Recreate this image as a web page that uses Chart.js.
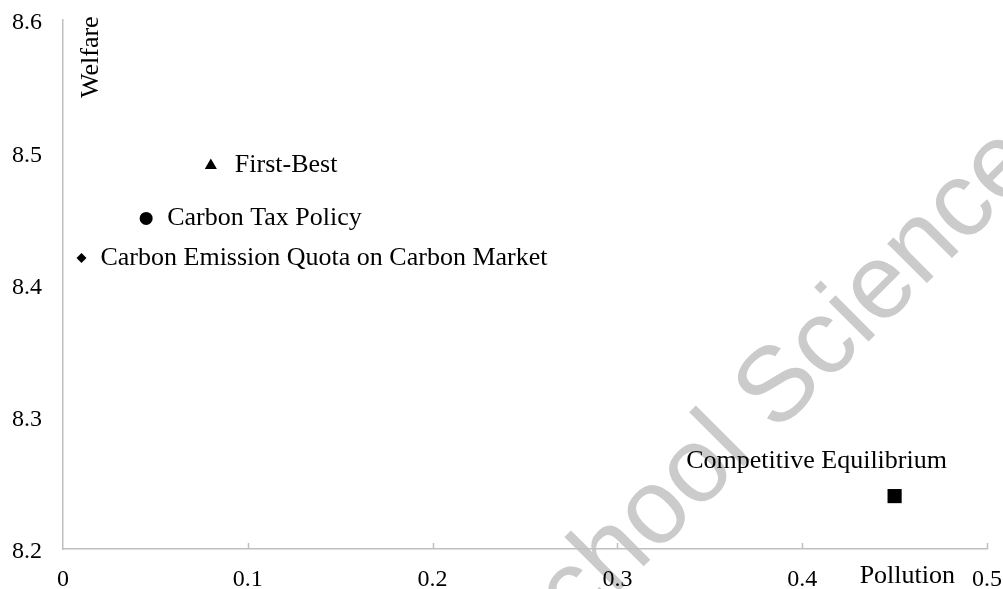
<!DOCTYPE html>
<html>
<head>
<meta charset="utf-8">
<script src="https://cdn.jsdelivr.net/npm/chart.js@4/dist/chart.umd.min.js"></script>
<style>
  html, body { margin: 0; padding: 0; background: #fff; }
  #wrap { width: 1003px; height: 589px; position: relative; }
</style>
</head>
<body>
<div id="wrap"><canvas id="welfareChart"></canvas></div>
<script>
// data
const policies = ['First-Best', 'Carbon Tax Policy', 'Carbon Emission Quota on Carbon Market', 'Competitive Equilibrium'];
const pollution = [0.08, 0.045, 0.01, 0.45];
const welfare = [8.49, 8.45, 8.42, 8.24];
const xTicks = [0, 0.1, 0.2, 0.3, 0.4, 0.5];
const yTicks = [8.2, 8.3, 8.4, 8.5, 8.6];

const axisGrey = '#bfbfbf';
const serif = '"Liberation Serif", "Times New Roman", serif';

// where each label sits relative to its marker
const labelPlacement = [
  { dx: 24, dy: 0, align: 'left' },
  { dx: 21, dy: 0, align: 'left' },
  { dx: 19, dy: 0, align: 'left' },
  { dx: -78, dy: -35, align: 'center' }
];

Chart.defaults.font.family = serif;
Chart.defaults.color = '#000';

// faint watermark behind everything
const watermark = {
  id: 'watermark',
  beforeDraw(chart) {
    const ctx = chart.ctx;
    ctx.save();
    ctx.translate(526, 684);
    ctx.rotate(-45 * Math.PI / 180);
    ctx.font = '106px "Liberation Sans", Arial, sans-serif';
    ctx.fillStyle = '#cbcbcb';
    ctx.textAlign = 'left';
    ctx.textBaseline = 'alphabetic';
    ctx.fillText('School Science', 0, 0);
    ctx.restore();
  }
};

// short tick marks pointing into the plot, plus the axis titles
const axisExtras = {
  id: 'axisExtras',
  afterDraw(chart) {
    const ctx = chart.ctx;
    const area = chart.chartArea;
    const xs = chart.scales.x;
    ctx.save();
    ctx.strokeStyle = axisGrey;
    ctx.lineWidth = 1.5;
    xTicks.forEach(v => {
      if (v === 0) return;
      const px = Math.round(xs.getPixelForValue(v)) + 0.5;
      ctx.beginPath();
      ctx.moveTo(px, area.bottom);
      ctx.lineTo(px, area.bottom - 6);
      ctx.stroke();
    });

    ctx.fillStyle = '#000';
    ctx.font = '26px ' + serif;
    ctx.textAlign = 'right';
    ctx.textBaseline = 'alphabetic';
    ctx.fillText('Pollution', area.right - 32, area.bottom + 34);

    ctx.translate(area.left + 35, area.top + 78);
    ctx.rotate(-Math.PI / 2);
    ctx.textAlign = 'left';
    ctx.fillText('Welfare', 0, 0);
    ctx.restore();
  }
};

const pointLabels = {
  id: 'pointLabels',
  afterDatasetsDraw(chart) {
    const ctx = chart.ctx;
    const meta = chart.getDatasetMeta(0);
    ctx.save();
    ctx.font = '26px ' + serif;
    ctx.fillStyle = '#000';
    ctx.textBaseline = 'middle';
    meta.data.forEach((pt, i) => {
      const p = labelPlacement[i];
      ctx.textAlign = p.align;
      ctx.fillText(policies[i], pt.x + p.dx, pt.y + p.dy);
    });
    ctx.restore();
  }
};

const ctx = document.getElementById('welfareChart').getContext('2d');
new Chart(ctx, {
  type: 'scatter',
  data: {
    datasets: [{
      label: 'Welfare vs Pollution',
      data: pollution.map((x, i) => ({ x: x, y: welfare[i] })),
      pointStyle: ['triangle', 'circle', 'rectRot', 'rect'],
      pointRadius: [7, 6.5, 5, 10],
      backgroundColor: '#000',
      borderColor: '#000',
      borderWidth: 0
    }]
  },
  options: {
    responsive: true,
    maintainAspectRatio: false,
    animation: false,
    events: [],
    layout: { padding: { top: 20, right: 16, left: 0, bottom: 0 } },
    plugins: {
      legend: { display: false },
      tooltip: { enabled: false }
    },
    scales: {
      x: {
        type: 'linear',
        min: 0,
        max: 0.5,
        afterBuildTicks: s => { s.ticks = xTicks.map(v => ({ value: v })); },
        afterFit: s => {
          s.height = 40;
          s.paddingLeft = 0;
          s.paddingRight = 0;
        },
        grid: { display: false, drawTicks: false },
        border: { display: true, color: axisGrey, width: 1.5 },
        ticks: {
          autoSkip: false,
          maxRotation: 0,
          padding: 16,
          font: { size: 24 },
          callback: v => String(v)
        }
      },
      y: {
        type: 'linear',
        min: 8.2,
        max: 8.6,
        afterBuildTicks: s => { s.ticks = yTicks.map(v => ({ value: v })); },
        afterFit: s => {
          s.width = 63;
          s.paddingTop = 0;
          s.paddingBottom = 0;
        },
        grid: { display: false, drawTicks: false },
        border: { display: true, color: axisGrey, width: 1.5 },
        ticks: {
          autoSkip: false,
          padding: 21,
          labelOffset: 3,
          font: { size: 24 },
          callback: v => v.toFixed(1)
        }
      }
    }
  },
  plugins: [watermark, axisExtras, pointLabels]
});
</script>
</body>
</html>
